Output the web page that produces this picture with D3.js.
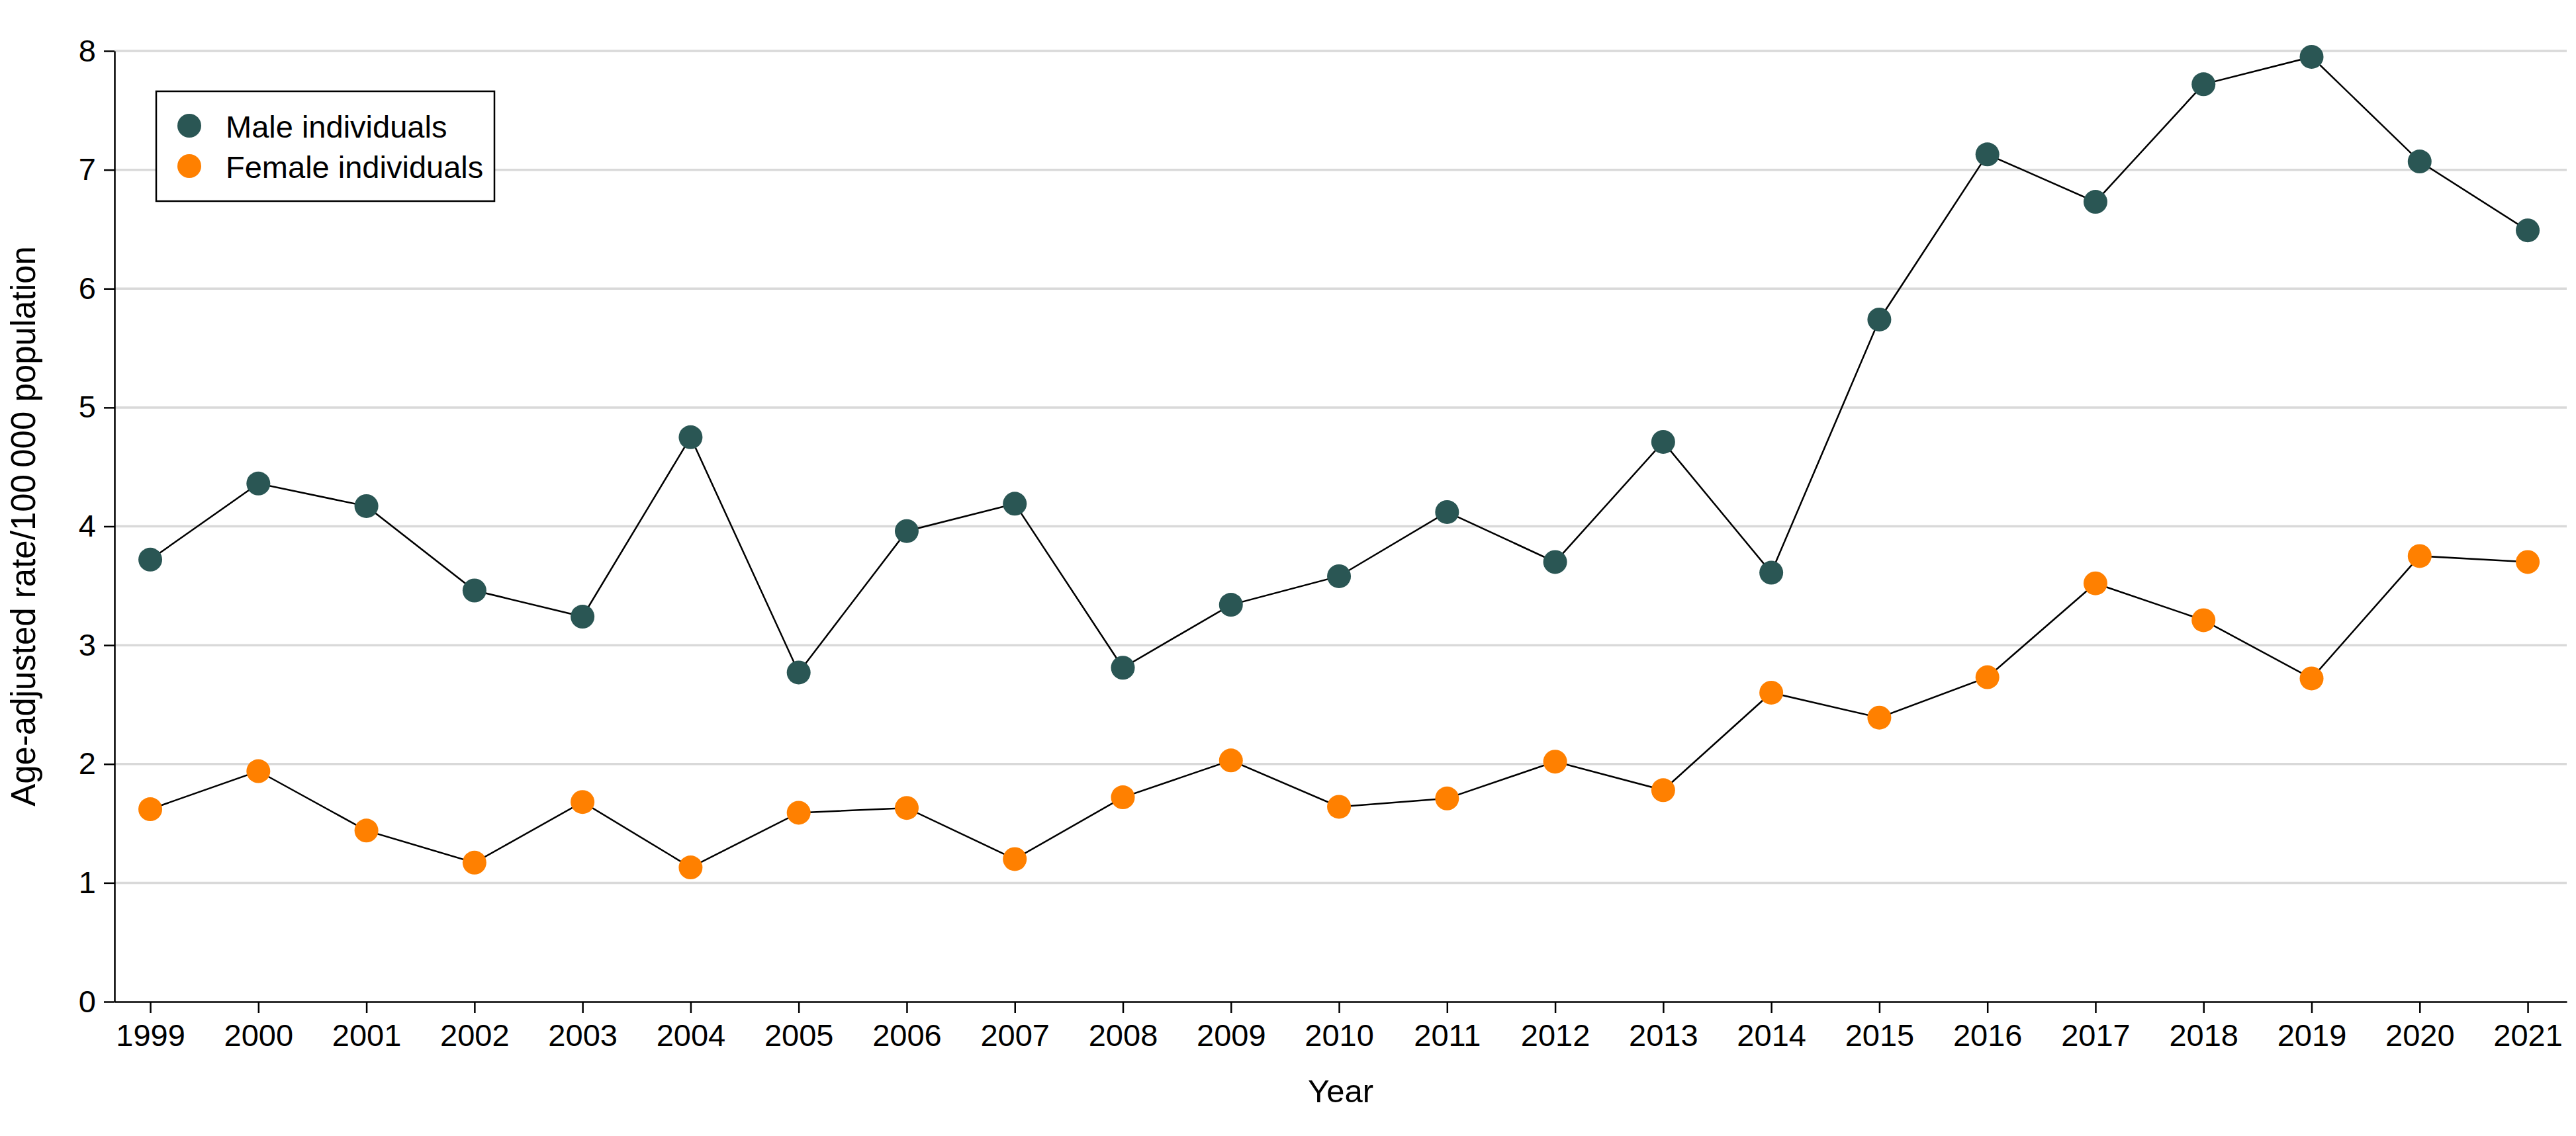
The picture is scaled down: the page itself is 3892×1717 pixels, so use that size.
<!DOCTYPE html>
<html>
<head>
<meta charset="utf-8">
<script src="https://cdn.jsdelivr.net/npm/d3@7"></script>
<style>
  html, body { margin: 0; padding: 0; background: #fff; }
  svg { display: block; font-family: "Liberation Sans", Arial, sans-serif; }
</style>
</head>
<body>
<svg id="chart" width="3892" height="1717"></svg>
<script>
const years = [1999,2000,2001,2002,2003,2004,2005,2006,2007,2008,2009,2010,2011,2012,2013,2014,2015,2016,2017,2018,2019,2020,2021];
const maleValues = [3.72,4.36,4.17,3.46,3.24,4.75,2.77,3.96,4.19,2.81,3.34,3.58,4.12,3.70,4.71,3.61,5.74,7.13,6.73,7.72,7.95,7.07,6.49];
const femaleValues = [1.62,1.94,1.44,1.17,1.68,1.13,1.59,1.63,1.20,1.72,2.03,1.64,1.71,2.02,1.78,2.60,2.39,2.73,3.52,3.21,2.72,3.75,3.70];
const yTicks = [0,1,2,3,4,5,6,7,8];
const seriesNames = ["Male individuals", "Female individuals"];
const seriesColors = ["#2a5654", "#ff8000"];
const xTitle = "Year";
const yTitle = "Age-adjusted rate/100\u2009000 population";

(function () {
const svg = d3.select("#chart");
const mLeft = 173, mRight = 3878, mTop = 77, mBottom = 1514;

const x = d3.scaleLinear().domain([1998.669, 2021.361]).range([mLeft, mRight]);
const y = d3.scaleLinear().domain([0, 8]).range([mBottom, mTop]);

// gridlines
svg.append("g").selectAll("line")
  .data(yTicks.filter(d => d > 0))
  .join("line")
  .attr("x1", mLeft).attr("x2", mRight)
  .attr("y1", d => y(d)).attr("y2", d => y(d))
  .attr("stroke", "#d9d9d9").attr("stroke-width", 3.5);

// axes
const xAxis = svg.append("g")
  .attr("transform", `translate(0,${mBottom})`)
  .call(d3.axisBottom(x).tickValues(years).tickFormat(d3.format("d")).tickSize(17).tickSizeOuter(0).tickPadding(17));
const yAxis = svg.append("g")
  .attr("transform", `translate(${mLeft},0)`)
  .call(d3.axisLeft(y).tickValues(yTicks).tickFormat(d3.format("d")).tickSize(16).tickSizeOuter(0).tickPadding(12));

[xAxis, yAxis].forEach(g => {
  g.select(".domain").attr("stroke", "#000").attr("stroke-width", 2.5);
  g.selectAll(".tick line").attr("stroke", "#000").attr("stroke-width", 2.5);
  g.selectAll(".tick text").attr("fill", "#000").attr("font-size", 47)
    .attr("font-family", "'Liberation Sans', Arial, sans-serif");
});

// series
const seriesData = [maleValues, femaleValues];
const line = d3.line().x((d, i) => x(years[i])).y(d => y(d));
seriesData.forEach((vals) => {
  svg.append("path").datum(vals)
    .attr("d", line)
    .attr("fill", "none")
    .attr("stroke", "#000")
    .attr("stroke-width", 2.5);
});
seriesData.forEach((vals, si) => {
  svg.append("g").selectAll("circle")
    .data(vals)
    .join("circle")
    .attr("cx", (d, i) => x(years[i]))
    .attr("cy", d => y(d))
    .attr("r", 18)
    .attr("fill", seriesColors[si]);
});

// legend
const legend = svg.append("g");
legend.append("rect")
  .attr("x", 236).attr("y", 138).attr("width", 511).attr("height", 166)
  .attr("fill", "#fff").attr("stroke", "#000").attr("stroke-width", 2.5);
seriesNames.forEach((name, i) => {
  const cy = 190 + i * 61;
  legend.append("circle").attr("cx", 286).attr("cy", cy).attr("r", 18).attr("fill", seriesColors[i]);
  legend.append("text").attr("x", 341).attr("y", cy + 18)
    .attr("font-size", 47).attr("fill", "#000").text(name);
});

// axis titles
svg.append("text")
  .attr("x", (mLeft + mRight) / 2).attr("y", 1666)
  .attr("text-anchor", "middle").attr("font-size", 49).attr("fill", "#000")
  .text(xTitle);
svg.append("text")
  .attr("transform", `translate(53,${(mTop + mBottom) / 2}) rotate(-90)`)
  .attr("text-anchor", "middle").attr("font-size", 51).attr("fill", "#000")
  .text(yTitle);
})();
</script>
</body>
</html>
